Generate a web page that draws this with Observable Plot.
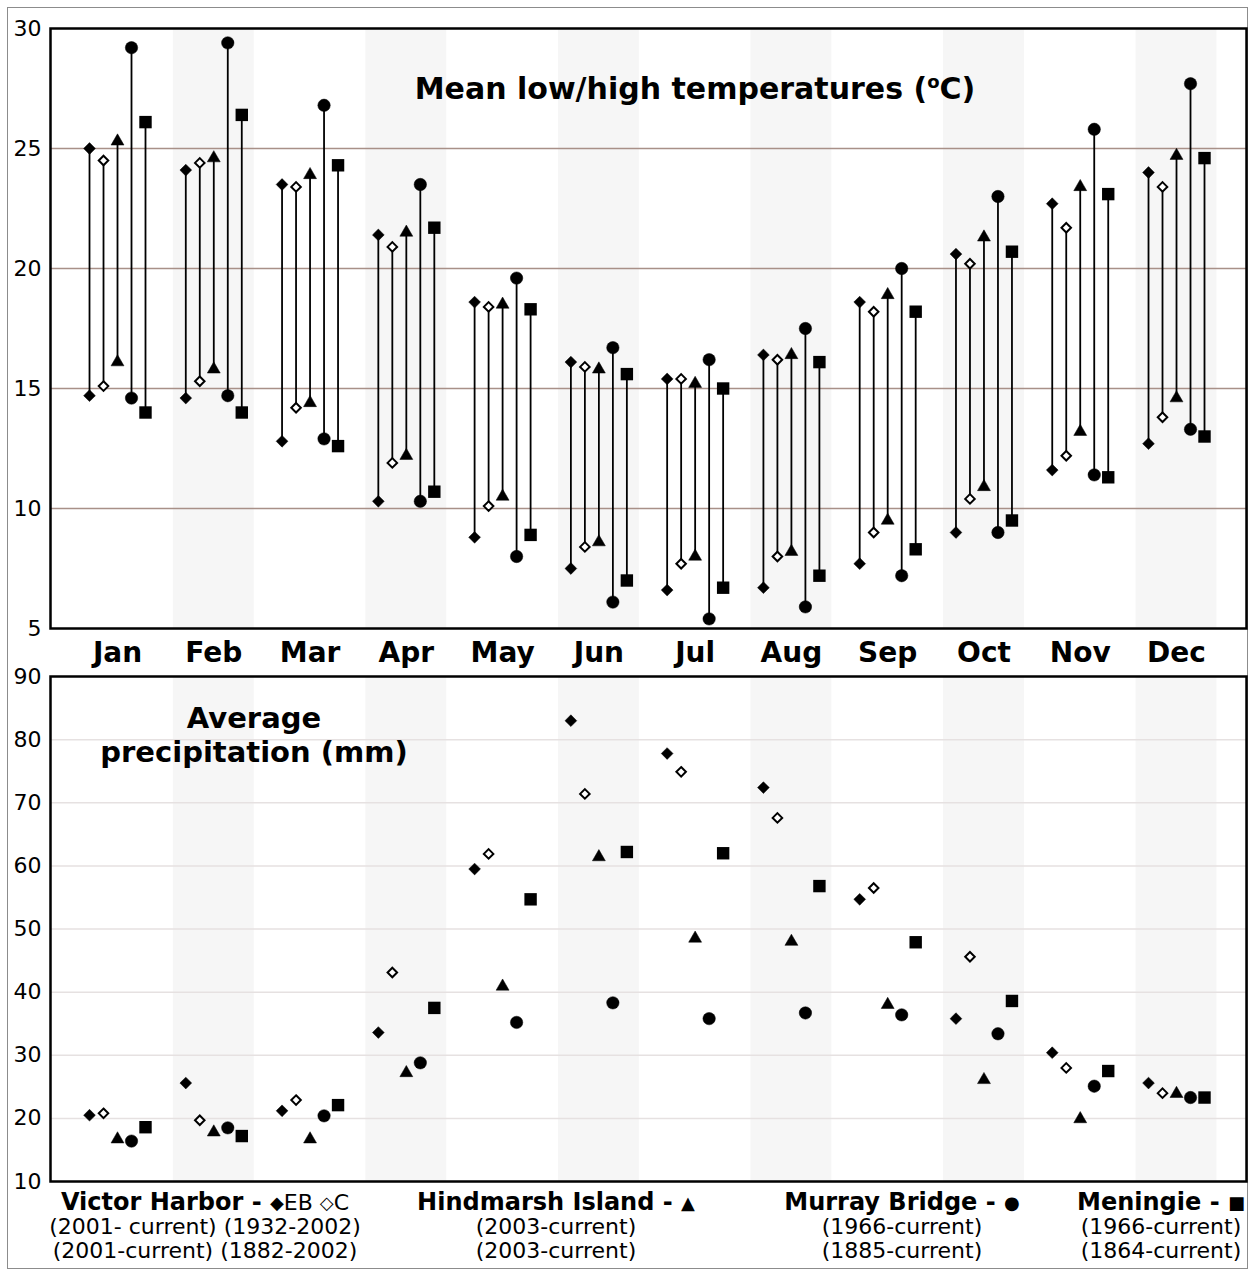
<!DOCTYPE html>
<html>
<head>
<meta charset="utf-8">
<script src="https://cdn.jsdelivr.net/npm/d3@7"></script>
<script src="https://cdn.jsdelivr.net/npm/@observablehq/plot@0.6"></script>
<style>
  body { margin: 0; background: #fff; font-family: "DejaVu Sans", Verdana, sans-serif; color: #000; }
  #wrap { position: relative; width: 1255px; height: 1276px; overflow: hidden; background: #fff; }
  #border { position: absolute; left: 7px; top: 7px; width: 1241px; height: 1262px; border: 1px solid #8c8c8c; box-sizing: border-box; }
  .abs { position: absolute; }
  #tempChart { left: 0; top: 0; }
  #rainChart { left: 0; top: 670px; }
  .ttl { font-weight: bold; font-size: 30px; line-height: 30px; text-align: center; white-space: nowrap; }
  .ttl sup { font-size: 0.6em; vertical-align: 0.6em; line-height: 0; }
  .leg { font-size: 22px; line-height: 24px; text-align: center; white-space: nowrap; width: 420px; }
  .leg b { font-size: 24px; }
  .sym { font-size: 18px; vertical-align: 0.08em; }
</style>
</head>
<body>
<div id="wrap">
  <div id="border"></div>
  <div id="tempChart" class="abs"></div>
  <div id="rainChart" class="abs"></div>
  <div class="abs ttl" style="left:395px; top:74px; width:600px;">Mean low/high temperatures (<sup>o</sup>C)</div>
  <div class="abs ttl" style="left:54px; top:703px; width:400px; font-size:29px;">Average</div>
  <div class="abs ttl" style="left:54px; top:737px; width:400px; font-size:29px;">precipitation (mm)</div>
  <div class="abs leg" style="left:-5px; top:1190px;"><b>Victor Harbor - </b><span class="sym">◆</span>EB <span class="sym">◇</span>C<br>(2001- current) (1932-2002)<br>(2001-current) (1882-2002)</div>
  <div class="abs leg" style="left:346px; top:1190px;"><b>Hindmarsh Island - </b><span class="sym">▲</span><br>(2003-current)<br>(2003-current)</div>
  <div class="abs leg" style="left:692px; top:1190px;"><b>Murray Bridge - </b><span class="sym">●</span><br>(1966-current)<br>(1885-current)</div>
  <div class="abs leg" style="left:951px; top:1190px;"><b>Meningie - </b><span class="sym">■</span><br>(1966-current)<br>(1864-current)</div>
</div>
<script>
// ---- Data ----
const months = ["Jan","Feb","Mar","Apr","May","Jun","Jul","Aug","Sep","Oct","Nov","Dec"];
const seriesNames = ["Victor Harbor EB","Victor Harbor C","Hindmarsh Island","Murray Bridge","Meningie"];
const tempTicks = [5, 10, 15, 20, 25, 30];
const tempGrid = [10, 15, 20, 25];
const rainTicks = [10, 20, 30, 40, 50, 60, 70, 80, 90];
const rainGrid = [20, 30, 40, 50, 60, 70, 80];

// Mean high / low temperatures (°C)
const ebHigh = [25.0, 24.1, 23.5, 21.4, 18.6, 16.1, 15.4, 16.4, 18.6, 20.6, 22.7, 24.0];
const ebLow  = [14.7, 14.6, 12.8, 10.3, 8.8, 7.5, 6.6, 6.7, 7.7, 9.0, 11.6, 12.7];
const cHigh  = [24.5, 24.4, 23.4, 20.9, 18.4, 15.9, 15.4, 16.2, 18.2, 20.2, 21.7, 23.4];
const cLow   = [15.1, 15.3, 14.2, 11.9, 10.1, 8.4, 7.7, 8.0, 9.0, 10.4, 12.2, 13.8];
const hiHigh = [25.3, 24.6, 23.9, 21.5, 18.5, 15.8, 15.2, 16.4, 18.9, 21.3, 23.4, 24.7];
const hiLow  = [16.1, 15.8, 14.4, 12.2, 10.5, 8.6, 8.0, 8.2, 9.5, 10.9, 13.2, 14.6];
const mbHigh = [29.2, 29.4, 26.8, 23.5, 19.6, 16.7, 16.2, 17.5, 20.0, 23.0, 25.8, 27.7];
const mbLow  = [14.6, 14.7, 12.9, 10.3, 8.0, 6.1, 5.4, 5.9, 7.2, 9.0, 11.4, 13.3];
const meHigh = [26.1, 26.4, 24.3, 21.7, 18.3, 15.6, 15.0, 16.1, 18.2, 20.7, 23.1, 24.6];
const meLow  = [14.0, 14.0, 12.6, 10.7, 8.9, 7.0, 6.7, 7.2, 8.3, 9.5, 11.3, 13.0];

// Average precipitation (mm)
const ebRain = [20.5, 25.6, 21.2, 33.6, 59.5, 83.0, 77.8, 72.4, 54.7, 35.8, 30.4, 25.6];
const cRain  = [20.8, 19.7, 22.9, 43.1, 61.9, 71.4, 74.9, 67.6, 56.5, 45.6, 28.0, 24.0];
const hiRain = [16.7, 17.8, 16.7, 27.2, 40.9, 61.4, 48.5, 48.0, 38.0, 26.1, 19.9, 23.9];
const mbRain = [16.4, 18.5, 20.4, 28.8, 35.2, 38.3, 35.8, 36.7, 36.4, 33.4, 25.1, 23.3];
const meRain = [18.6, 17.2, 22.1, 37.5, 54.7, 62.2, 62.0, 56.8, 47.9, 38.6, 27.5, 23.3];

(function () {
  const highs = [ebHigh, cHigh, hiHigh, mbHigh, meHigh];
  const lows = [ebLow, cLow, hiLow, mbLow, meLow];
  const rains = [ebRain, cRain, hiRain, mbRain, meRain];

  const styles = [
    {symbol: "diamond2", r: 5.3, fill: "black", stroke: "black", strokeWidth: 0.5},
    {symbol: "diamond2", r: 4.3, fill: "white", stroke: "black", strokeWidth: 2},
    {symbol: "triangle", r: 4.8, fill: "black", stroke: "black", strokeWidth: 0.5},
    {symbol: "circle", r: 6.2, fill: "black", stroke: "black", strokeWidth: 0.5},
    {symbol: "square", r: 7.0, fill: "black", stroke: "none", strokeWidth: 0}
  ];
  const seriesStep = 0.1454;
  const xDomain = [-0.696, 11.727];

  const rows = seriesNames.map((name, k) => months.map((m, i) => ({
    series: name, k, month: m, x: i + (k - 2) * seriesStep,
    high: highs[k][i], low: lows[k][i], rain: rains[k][i]
  })));
  const allRows = rows.flat();

  const shadedMonths = d3.range(12).filter(i => i % 2 === 1);
  const W = 1255;
  const style = {fontFamily: '"DejaVu Sans", Verdana, sans-serif', fontSize: "22px", background: "transparent", overflow: "visible", color: "black"};

  function dotMarks(yField) {
    return rows.map((r, k) => {
      const s = styles[k];
      return Plot.dot(r, {x: "x", y: yField, symbol: s.symbol, r: s.r, fill: s.fill, stroke: s.stroke, strokeWidth: s.strokeWidth});
    });
  }

  const tempPlot = Plot.plot({
    width: W, height: 670,
    marginLeft: 50, marginRight: 9, marginTop: 28, marginBottom: 42,
    style,
    x: {domain: xDomain},
    y: {domain: [5, 30]},
    marks: [
      Plot.rect(shadedMonths, {x1: d => d - 0.42, x2: d => d + 0.42, y1: 5, y2: 30, fill: "#f6f6f6"}),
      Plot.ruleY(tempGrid, {stroke: "#a89088", strokeWidth: 1.5}),
      Plot.ruleX(allRows, {x: "x", y1: "low", y2: "high", stroke: "black", strokeWidth: 1.8}),
      ...dotMarks("high"),
      ...dotMarks("low"),
      Plot.frame({stroke: "black", strokeWidth: 2.5}),
      Plot.axisY(tempTicks, {tickSize: 0, tickPadding: 9, fontSize: 22, label: null}),
      Plot.axisX(d3.range(12), {tickFormat: i => months[i], tickSize: 0, tickPadding: 14, fontSize: 28, fontWeight: "bold", label: null})
    ]
  });
  document.getElementById("tempChart").appendChild(tempPlot);

  const rainPlot = Plot.plot({
    width: W, height: 521,
    marginLeft: 50, marginRight: 9, marginTop: 6, marginBottom: 10,
    style,
    x: {domain: xDomain, axis: null},
    y: {domain: [10, 90]},
    marks: [
      Plot.rect(shadedMonths, {x1: d => d - 0.42, x2: d => d + 0.42, y1: 10, y2: 90, fill: "#f6f6f6"}),
      Plot.ruleY(rainGrid, {stroke: "#e6e1e1", strokeWidth: 1.5}),
      ...dotMarks("rain"),
      Plot.frame({stroke: "black", strokeWidth: 2.5}),
      Plot.axisY(rainTicks, {tickSize: 0, tickPadding: 9, fontSize: 22, label: null})
    ]
  });
  document.getElementById("rainChart").appendChild(rainPlot);
})();
</script>
</body>
</html>
